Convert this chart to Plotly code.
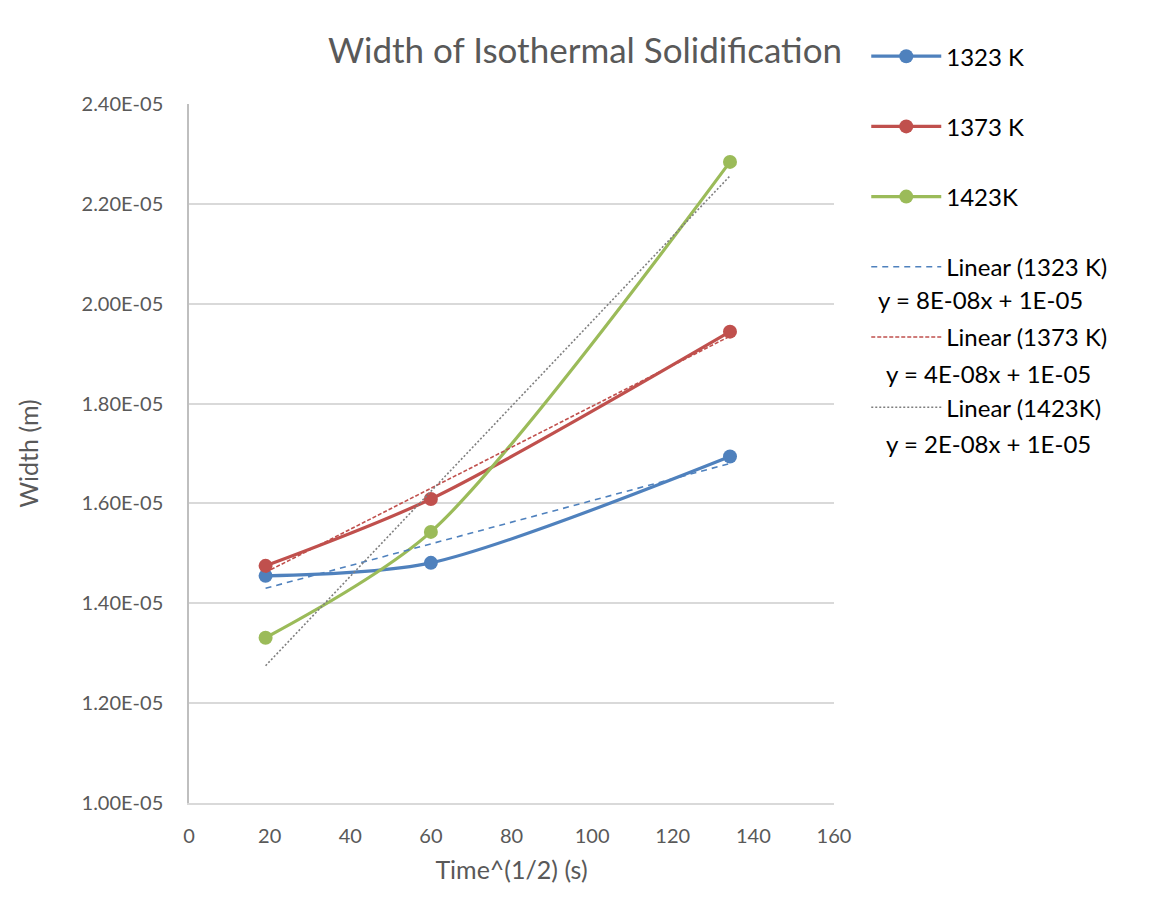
import plotly.graph_objects as go

# данные
time_sqrt = [19.0, 60.0, 134.2]
width_1323 = [1.455e-05, 1.481e-05, 1.694e-05]
width_1373 = [1.475e-05, 1.609e-05, 1.944e-05]
width_1423 = [1.331e-05, 1.543e-05, 2.284e-05]

# концы линий тренда
trend_x = [19.0, 134.2]
trend_1323 = [1.430e-05, 1.680e-05]
trend_1373 = [1.462e-05, 1.935e-05]
trend_1423 = [1.275e-05, 2.256e-05]

names = ["1323 K", "1373 K", "1423K"]
trend_names = ["Linear (1323 K)", "Linear (1373 K)", "Linear (1423K)"]
equations = ["y = 8E-08x + 1E-05", "y = 4E-08x + 1E-05", "y = 2E-08x + 1E-05"]

y_ticks = [1.0e-05, 1.2e-05, 1.4e-05, 1.6e-05, 1.8e-05, 2.0e-05, 2.2e-05, 2.4e-05]
y_tick_labels = [f"{v:.2E}" for v in y_ticks]

colors = ["#4F81BD", "#C0504D", "#9BBB59"]
FONT = "Lato"

fig = go.Figure()

for i, ys in enumerate([width_1323, width_1373, width_1423]):
    fig.add_trace(go.Scatter(
        x=time_sqrt, y=ys, name=names[i], mode="lines+markers",
        line=dict(color=colors[i], width=3.2, shape="spline", smoothing=0.8),
        marker=dict(size=14, color=colors[i]),
        legendgroup=f"g{i}",
    ))

trend_styles = [
    dict(color="#4F81BD", width=1.6, dash="6px,5px"),
    dict(color="#C0504D", width=1.6, dash="4px,2px"),
    dict(color="#7F7F7F", width=1.6, dash="2px,2px"),
]
for i, ys in enumerate([trend_1323, trend_1373, trend_1423]):
    fig.add_trace(go.Scatter(
        x=trend_x, y=ys, name=trend_names[i], mode="lines",
        line=trend_styles[i], legendgroup=f"t{i}",
    ))

# уравнения под подписями трендов
eq_y = [0.72, 0.615, 0.515]
eq_x = [1.227, 1.24, 1.24]
for i, txt in enumerate(equations):
    fig.add_annotation(
        text=txt, xref="paper", yref="paper", x=eq_x[i], y=eq_y[i],
        xanchor="center", yanchor="middle", showarrow=False,
        font=dict(family=FONT, size=24, color="#000000"),
    )

fig.update_layout(
    width=1154, height=916,
    margin=dict(l=181, r=328, t=96, b=121),
    paper_bgcolor="white", plot_bgcolor="white",
    font=dict(family=FONT, color="#595959"),
    title=dict(
        text="Width of Isothermal Solidification",
        x=0.5, xanchor="center", y=0.953, yanchor="middle",
        font=dict(family=FONT, size=35, color="#595959"),
    ),
    legend=dict(
        x=1.05, xanchor="left", y=1.1, yanchor="top",
        font=dict(family=FONT, size=24, color="#000000"),
        itemwidth=70, tracegroupgap=36, bgcolor="rgba(0,0,0,0)",
    ),
    xaxis=dict(
        range=[0, 160], dtick=20, tick0=0,
        showgrid=False, zeroline=False,
        showline=True, linecolor="#D9D9D9", linewidth=1.5,
        ticks="", ticklabelstandoff=14,
        tickfont=dict(family=FONT, size=20, color="#595959"),
        title=dict(text="Time^(1/2) (s)", standoff=16,
                   font=dict(family=FONT, size=25, color="#595959")),
    ),
    yaxis=dict(
        range=[1.0e-05, 2.4e-05],
        tickvals=y_ticks, ticktext=y_tick_labels,
        showgrid=True, gridcolor="#D9D9D9", gridwidth=1.5,
        zeroline=False,
        showline=True, linecolor="#BFBFBF", linewidth=1.5,
        ticks="", ticklabelstandoff=20,
        tickfont=dict(family=FONT, size=20, color="#595959"),
        title=dict(text="Width (m)", standoff=36,
                   font=dict(family=FONT, size=25, color="#595959")),
    ),
)

fig.write_html("out.html")
